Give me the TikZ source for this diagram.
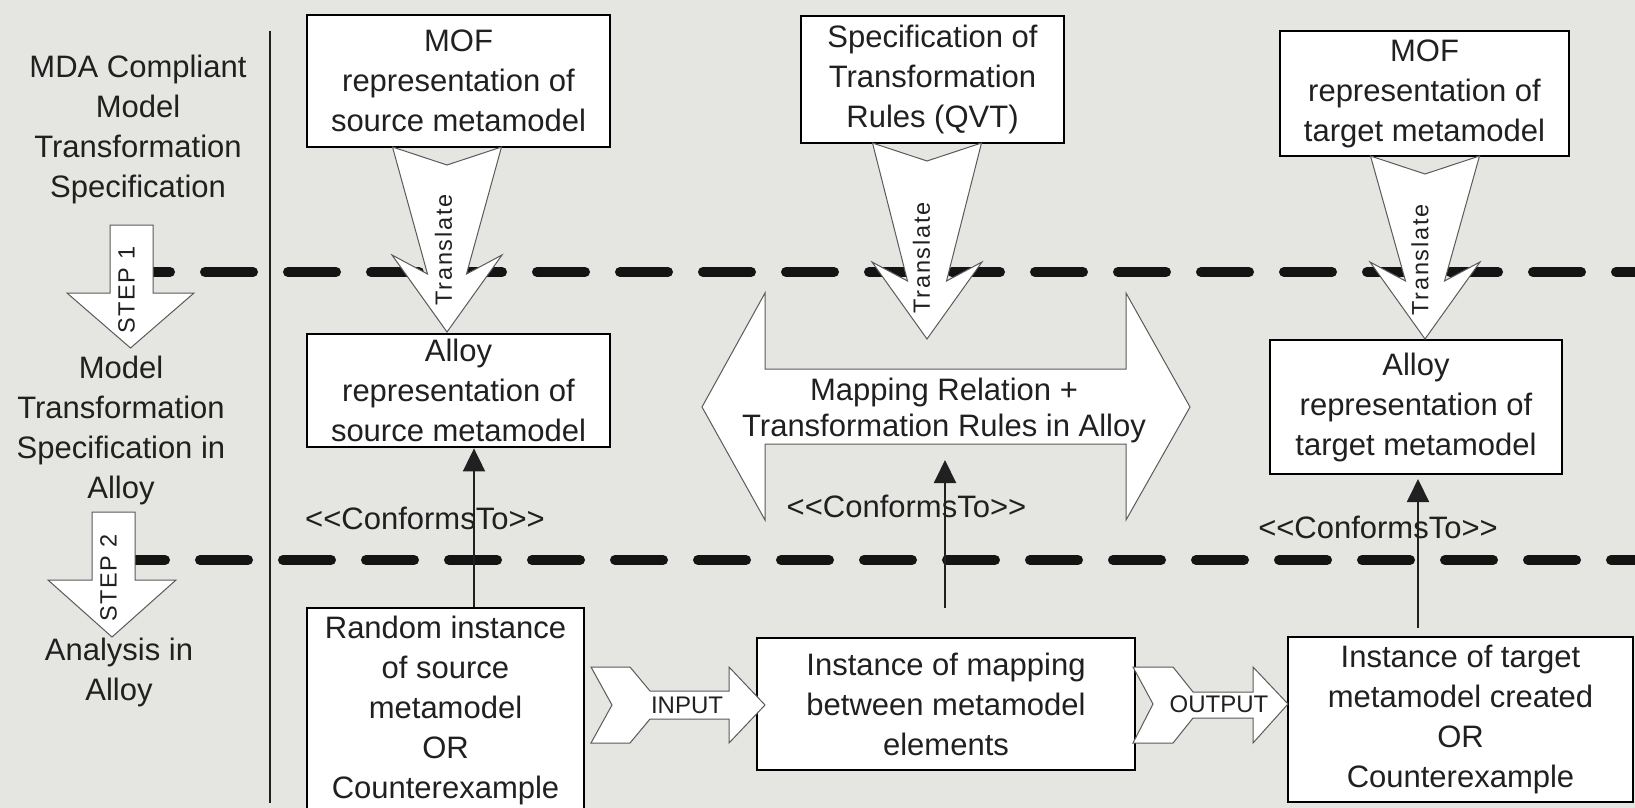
\documentclass[tikz,border=0pt]{standalone}
\usepackage{fontspec}
\setmainfont{Liberation Sans}
\newfontfamily\spacedfont[LetterSpace=7.4]{Liberation Sans}
\usetikzlibrary{arrows.meta}
\definecolor{bg}{RGB}{229,229,225}
\definecolor{txt}{RGB}{32,32,32}
\definecolor{aline}{RGB}{90,90,90}
\definecolor{dashc}{RGB}{20,20,20}
\newcommand\bigtxt{\fontsize{31}{40}\selectfont}
\newcommand\dbltxt{\fontsize{31}{36}\selectfont}
\newcommand\midtxt{\fontsize{24}{28}\selectfont}
\newcommand\smalltxt{\spacedfont\fontsize{23.5}{28}\selectfont}
\newcommand\conftxt{<{}<ConformsTo>{}>}
\newcommand\transarrow[3]{%
  \begin{scope}[shift={(#1,0)}]
    \path[fat] (-54.5,#2) -- (0,#2+18) -- (54.5,#2) -- (19.5,#3-58) -- (55,#3-77)
      -- (0,#3) -- (-55,#3-77) -- (-19.5,#3-58) -- cycle;
  \end{scope}}
\begin{document}
\begin{tikzpicture}[x=1pt,y=-1pt,
  box/.style={draw=black, line width=2.8pt, fill=white, inner sep=0pt, align=center, font=\bigtxt, text=txt},
  lbl/.style={align=center, font=\bigtxt, text=txt, inner sep=0pt},
  dbl/.style={align=center, font=\dbltxt, text=txt, inner sep=0pt},
  io/.style={font=\midtxt, text=txt, inner sep=0pt},
  rot/.style={font=\smalltxt, text=txt, inner sep=0pt, rotate=90},
  fat/.style={draw=aline, line width=1pt, fill=white, line join=miter},
  conf/.style={line width=2pt, draw=txt, -{Triangle[length=23pt,width=22pt]}},
  dashline/.style={line width=10pt, line cap=round, dash pattern=on 48pt off 35pt, draw=dashc},
]
\useasboundingbox (0,0) rectangle (1635,808);
\clip (0,0) rectangle (1635,808);
\fill[bg] (0,0) rectangle (1635,808);

% dashed separators and vertical rule
\draw[dashline] (122,272) -- (1650,272);
\draw[dashline] (117,560) -- (1650,560);
\draw[line width=2pt, draw=txt] (270,31) -- (270,803);

% left column labels
\node[lbl] (lab1) at (138,129) {MDA Compliant\\Model\\Transformation\\Specification};
\node[lbl] (lab2) at (121,430) {Model\\Transformation\\Specification in\\Alloy};
\node[lbl] (lab3) at (119,672) {Analysis in\\Alloy};

% step arrows
\path[fat] (110,225) -- (153,225) -- (153,293) -- (194,293) -- (130.5,348) -- (67,293) -- (110,293) -- cycle;
\node[rot] (step1) at (126.5,290) {STEP 1};
\path[fat] (92,512) -- (135,512) -- (135,580) -- (176,580) -- (112,637) -- (48,580) -- (92,580) -- cycle;
\node[rot] (step2) at (108.5,578) {STEP 2};

% top boxes
\node[box, minimum width=303pt, minimum height=132pt] (mofsrc) at (458.5,81) {MOF\\representation of\\source metamodel};
\node[box, minimum width=263pt, minimum height=127pt] (spec) at (932.5,79.5) {Specification of\\Transformation\\Rules (QVT)};
\node[box, minimum width=289pt, minimum height=125pt] (moftgt) at (1424.5,93.5) {MOF\\representation of\\target metamodel};

% middle boxes
\node[box, minimum width=303pt, minimum height=113pt] (alloysrc) at (458.5,390.5) {Alloy\\representation of\\source metamodel};
\node[box, minimum width=292pt, minimum height=134pt] (alloytgt) at (1416,407) {Alloy\\representation of\\target metamodel};

% double arrow
\path[fat] (702,407) -- (765,293) -- (765,369) -- (1126,369) -- (1126,293) -- (1190,407)
  -- (1126,520) -- (1126,444) -- (765,444) -- (765,520) -- cycle;
\node[dbl] (mapping) at (944,410) {Mapping Relation +\\Transformation Rules in Alloy};

% translate arrows
\transarrow{447}{147}{332}
\node[rot] (tr1) at (443.5,250) {Translate};
\transarrow{927}{143}{339}
\node[rot] (tr2) at (921.5,258) {Translate};
\transarrow{1425}{156}{339}
\node[rot] (tr3) at (1420,260) {Translate};

% bottom boxes
\node[box, minimum width=277pt, minimum height=204pt] (randsrc) at (445.5,710) {Random instance\\of source\\metamodel\\OR\\Counterexample};
\node[box, minimum width=378pt, minimum height=132pt] (mapinst) at (946,704) {Instance of mapping\\between metamodel\\elements};
\node[box, minimum width=345pt, minimum height=165pt] (tgtinst) at (1460.5,719.5) {Instance of target\\metamodel created\\OR\\Counterexample};

% input / output arrows
\path[fat] (591,667) -- (630,667) -- (650,691) -- (729,691) -- (729,667) -- (765,705) -- (729,743)
  -- (729,719) -- (650,719) -- (630,743) -- (591,743) -- (612,705) -- cycle;
\node[io] (input) at (687,705) {INPUT};
\path[fat] (1133,667) -- (1173,667) -- (1193,692) -- (1253,692) -- (1253,667) -- (1288,704) -- (1253,743)
  -- (1253,718) -- (1193,718) -- (1173,743) -- (1133,743) -- (1153,704) -- cycle;
\node[io] (output) at (1219,704) {OUTPUT};

% conforms-to labels and arrows
\node[lbl] (cf1) at (425,518) {\conftxt};
\node[lbl] (cf2) at (906.5,506) {\conftxt};
\node[lbl] (cf3) at (1378,527) {\conftxt};
\coordinate (c1x) at (474,0);
\draw[conf] (randsrc.north -| c1x) -- (alloysrc.south -| c1x);
\coordinate (c2a) at (945,608);
\coordinate (c2b) at (945,460);
\draw[conf] (c2a) -- (c2b);
\coordinate (c3a) at (1418,628);
\coordinate (c3b) at (1418,479);
\draw[conf] (c3a) -- (c3b);
\end{tikzpicture}
\end{document}
